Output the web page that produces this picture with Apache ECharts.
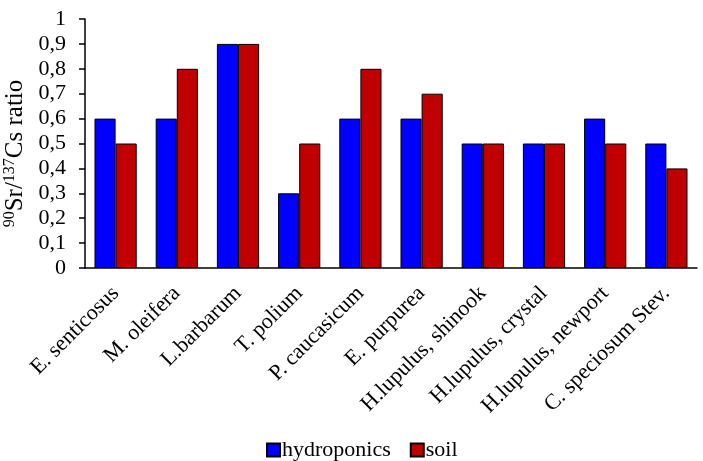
<!DOCTYPE html>
<html><head><meta charset="utf-8">
<script src="https://cdn.jsdelivr.net/npm/echarts@6/dist/echarts.min.js"></script>
<style>html,body{margin:0;padding:0;background:#fff}#c{width:703px;height:461px}</style>
</head><body><div id="c"></div>
<script>
const categories = ['E. senticosus','M. oleifera','L.barbarum','T. polium','P. caucasicum','E. purpurea','H.lupulus, shinook','H.lupulus, crystal','H.lupulus, newport','C. speciosum Stev.'];
const hydroponics = [0.6,0.6,0.9,0.3,0.6,0.6,0.5,0.5,0.6,0.5];
const soil = [0.5,0.8,0.9,0.5,0.8,0.7,0.5,0.5,0.5,0.4];
const yTicks = [0,0.1,0.2,0.3,0.4,0.5,0.6,0.7,0.8,0.9,1];

const font = 'Liberation Serif';
const chart = echarts.init(document.getElementById('c'));
chart.setOption({
  animation:false,
  textStyle:{fontFamily:font},
  grid:{left:85,top:19,right:6,bottom:193,containLabel:false,outerBoundsMode:'none'},
  legend:{
    top:434,left:261,itemWidth:13,itemHeight:13,itemGap:19,
    textStyle:{fontFamily:font,fontSize:22,color:'#000',padding:[0,0,0,-3]},
    data:[{name:'hydroponics',icon:'rect'},{name:'soil',icon:'rect'}]
  },
  xAxis:{
    type:'category',data:categories,
    axisLine:{lineStyle:{color:'#000',width:1.5}},
    axisTick:{show:false},
    axisLabel:{rotate:45,interval:0,fontFamily:font,fontSize:22,color:'#000',margin:22,padding:[8,0,0,0]}
  },
  yAxis:{
    type:'value',min:0,max:1,interval:0.1,
    name:'{sup|90}{n|Sr/}{sup|137}{n|Cs ratio}',
    nameLocation:'middle',nameGap:50,nameRotate:90,
    nameTextStyle:{padding:[0,20,0,0],rich:{
      sup:{fontFamily:font,fontSize:16,color:'#000',verticalAlign:'top',padding:[0,0,11,0]},
      n:{fontFamily:font,fontSize:25,color:'#000'}
    }},
    splitLine:{show:false},
    axisLine:{show:true,lineStyle:{color:'#000',width:1.5}},
    axisTick:{show:true,inside:false,length:6,lineStyle:{color:'#000',width:1.5}},
    axisLabel:{fontFamily:font,fontSize:22,color:'#000',margin:19,
      formatter:v=>{const t=yTicks.find(x=>Math.abs(x-v)<1e-9);return (t===undefined?v:t).toString().replace('.',',');}}
  },
  series:[
    {name:'hydroponics',type:'bar',data:hydroponics,barGap:'0%',barCategoryGap:'31%',
     itemStyle:{color:'#0000FF',borderColor:'#000',borderWidth:1}},
    {name:'soil',type:'bar',data:soil,barGap:'0%',barCategoryGap:'31%',
     itemStyle:{color:'#C00000',borderColor:'#000',borderWidth:1}}
  ]
});
</script></body></html>
